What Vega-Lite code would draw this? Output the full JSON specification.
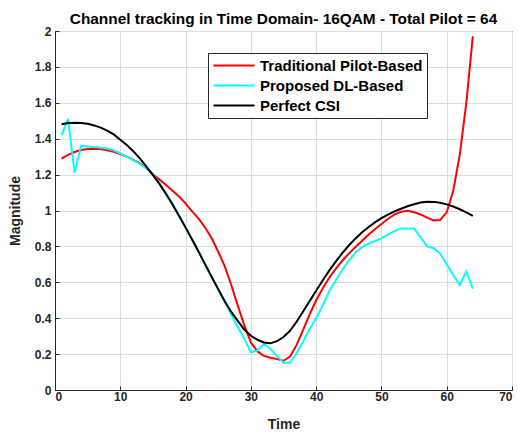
{
  "$schema": "https://vega.github.io/schema/vega-lite/v6.json",
  "width": 457,
  "height": 359,
  "autosize": {"type": "none"},
  "padding": {"left": 55, "top": 31, "right": 6, "bottom": 43},
  "background": "white",
  "config": {
    "font": "Liberation Sans",
    "view": {"stroke": "#262626", "strokeWidth": 1},
    "axis": {
      "labelFont": "Liberation Sans", "labelFontWeight": "bold", "labelFontSize": 12, "labelColor": "#262626",
      "titleFont": "Liberation Sans", "titleFontWeight": "bold", "titleFontSize": 14, "titleColor": "#262626",
      "gridColor": "#dcdcdc", "gridWidth": 1, "domainColor": "#262626", "tickColor": "#262626",
      "tickSize": -4
    }
  },
  "title": {
    "text": "Channel tracking in Time Domain- 16QAM - Total Pilot = 64",
    "font": "Liberation Sans", "fontSize": 15.4, "fontWeight": "bold", "color": "#000000",
    "anchor": "middle", "offset": -2
  },
  "data": {
    "values": [
      {"t":1,"Traditional Pilot-Based":1.289,"Proposed DL-Based":1.42,"Perfect CSI":1.480},
      {"t":2,"Traditional Pilot-Based":1.310,"Proposed DL-Based":1.51,"Perfect CSI":1.487},
      {"t":3,"Traditional Pilot-Based":1.326,"Proposed DL-Based":1.21,"Perfect CSI":1.489},
      {"t":4,"Traditional Pilot-Based":1.337,"Proposed DL-Based":1.36,"Perfect CSI":1.488},
      {"t":5,"Traditional Pilot-Based":1.343,"Proposed DL-Based":1.357,"Perfect CSI":1.483},
      {"t":6,"Traditional Pilot-Based":1.344,"Proposed DL-Based":1.354,"Perfect CSI":1.474},
      {"t":7,"Traditional Pilot-Based":1.342,"Proposed DL-Based":1.350,"Perfect CSI":1.462},
      {"t":8,"Traditional Pilot-Based":1.336,"Proposed DL-Based":1.345,"Perfect CSI":1.445},
      {"t":9,"Traditional Pilot-Based":1.327,"Proposed DL-Based":1.335,"Perfect CSI":1.424},
      {"t":10,"Traditional Pilot-Based":1.315,"Proposed DL-Based":1.318,"Perfect CSI":1.394},
      {"t":11,"Traditional Pilot-Based":1.300,"Proposed DL-Based":1.300,"Perfect CSI":1.365},
      {"t":12,"Traditional Pilot-Based":1.282,"Proposed DL-Based":1.280,"Perfect CSI":1.330},
      {"t":13,"Traditional Pilot-Based":1.262,"Proposed DL-Based":1.260,"Perfect CSI":1.290},
      {"t":14,"Traditional Pilot-Based":1.237,"Proposed DL-Based":1.235,"Perfect CSI":1.245},
      {"t":15,"Traditional Pilot-Based":1.202,"Proposed DL-Based":1.200,"Perfect CSI":1.197},
      {"t":16,"Traditional Pilot-Based":1.172,"Proposed DL-Based":1.152,"Perfect CSI":1.148},
      {"t":17,"Traditional Pilot-Based":1.142,"Proposed DL-Based":1.097,"Perfect CSI":1.092},
      {"t":18,"Traditional Pilot-Based":1.110,"Proposed DL-Based":1.037,"Perfect CSI":1.033},
      {"t":19,"Traditional Pilot-Based":1.078,"Proposed DL-Based":0.972,"Perfect CSI":0.970},
      {"t":20,"Traditional Pilot-Based":1.040,"Proposed DL-Based":0.906,"Perfect CSI":0.905},
      {"t":21,"Traditional Pilot-Based":0.995,"Proposed DL-Based":0.839,"Perfect CSI":0.838},
      {"t":22,"Traditional Pilot-Based":0.955,"Proposed DL-Based":0.770,"Perfect CSI":0.770},
      {"t":23,"Traditional Pilot-Based":0.905,"Proposed DL-Based":0.700,"Perfect CSI":0.700},
      {"t":24,"Traditional Pilot-Based":0.845,"Proposed DL-Based":0.630,"Perfect CSI":0.630},
      {"t":25,"Traditional Pilot-Based":0.770,"Proposed DL-Based":0.560,"Perfect CSI":0.562},
      {"t":26,"Traditional Pilot-Based":0.690,"Proposed DL-Based":0.490,"Perfect CSI":0.495},
      {"t":27,"Traditional Pilot-Based":0.585,"Proposed DL-Based":0.420,"Perfect CSI":0.435},
      {"t":28,"Traditional Pilot-Based":0.470,"Proposed DL-Based":0.350,"Perfect CSI":0.385},
      {"t":29,"Traditional Pilot-Based":0.360,"Proposed DL-Based":0.285,"Perfect CSI":0.337},
      {"t":30,"Traditional Pilot-Based":0.265,"Proposed DL-Based":0.210,"Perfect CSI":0.302},
      {"t":31,"Traditional Pilot-Based":0.215,"Proposed DL-Based":0.220,"Perfect CSI":0.280},
      {"t":32,"Traditional Pilot-Based":0.190,"Proposed DL-Based":0.256,"Perfect CSI":0.265},
      {"t":33,"Traditional Pilot-Based":0.180,"Proposed DL-Based":0.230,"Perfect CSI":0.260},
      {"t":34,"Traditional Pilot-Based":0.172,"Proposed DL-Based":0.190,"Perfect CSI":0.272},
      {"t":35,"Traditional Pilot-Based":0.163,"Proposed DL-Based":0.152,"Perfect CSI":0.295},
      {"t":36,"Traditional Pilot-Based":0.186,"Proposed DL-Based":0.152,"Perfect CSI":0.330},
      {"t":37,"Traditional Pilot-Based":0.250,"Proposed DL-Based":0.205,"Perfect CSI":0.380},
      {"t":38,"Traditional Pilot-Based":0.335,"Proposed DL-Based":0.270,"Perfect CSI":0.437},
      {"t":39,"Traditional Pilot-Based":0.420,"Proposed DL-Based":0.340,"Perfect CSI":0.495},
      {"t":40,"Traditional Pilot-Based":0.500,"Proposed DL-Based":0.400,"Perfect CSI":0.553},
      {"t":41,"Traditional Pilot-Based":0.565,"Proposed DL-Based":0.470,"Perfect CSI":0.610},
      {"t":42,"Traditional Pilot-Based":0.625,"Proposed DL-Based":0.550,"Perfect CSI":0.665},
      {"t":43,"Traditional Pilot-Based":0.675,"Proposed DL-Based":0.610,"Perfect CSI":0.715},
      {"t":44,"Traditional Pilot-Based":0.720,"Proposed DL-Based":0.670,"Perfect CSI":0.762},
      {"t":45,"Traditional Pilot-Based":0.760,"Proposed DL-Based":0.720,"Perfect CSI":0.805},
      {"t":46,"Traditional Pilot-Based":0.795,"Proposed DL-Based":0.765,"Perfect CSI":0.843},
      {"t":47,"Traditional Pilot-Based":0.830,"Proposed DL-Based":0.795,"Perfect CSI":0.877},
      {"t":48,"Traditional Pilot-Based":0.865,"Proposed DL-Based":0.815,"Perfect CSI":0.907},
      {"t":49,"Traditional Pilot-Based":0.895,"Proposed DL-Based":0.830,"Perfect CSI":0.934},
      {"t":50,"Traditional Pilot-Based":0.925,"Proposed DL-Based":0.845,"Perfect CSI":0.957},
      {"t":51,"Traditional Pilot-Based":0.953,"Proposed DL-Based":0.865,"Perfect CSI":0.977},
      {"t":52,"Traditional Pilot-Based":0.978,"Proposed DL-Based":0.885,"Perfect CSI":0.995},
      {"t":53,"Traditional Pilot-Based":0.993,"Proposed DL-Based":0.900,"Perfect CSI":1.010},
      {"t":54,"Traditional Pilot-Based":0.998,"Proposed DL-Based":0.900,"Perfect CSI":1.024},
      {"t":55,"Traditional Pilot-Based":0.990,"Proposed DL-Based":0.900,"Perfect CSI":1.035},
      {"t":56,"Traditional Pilot-Based":0.978,"Proposed DL-Based":0.850,"Perfect CSI":1.044},
      {"t":57,"Traditional Pilot-Based":0.960,"Proposed DL-Based":0.800,"Perfect CSI":1.049},
      {"t":58,"Traditional Pilot-Based":0.945,"Proposed DL-Based":0.790,"Perfect CSI":1.048},
      {"t":59,"Traditional Pilot-Based":0.947,"Proposed DL-Based":0.760,"Perfect CSI":1.043},
      {"t":60,"Traditional Pilot-Based":0.990,"Proposed DL-Based":0.700,"Perfect CSI":1.034},
      {"t":61,"Traditional Pilot-Based":1.110,"Proposed DL-Based":0.640,"Perfect CSI":1.022},
      {"t":62,"Traditional Pilot-Based":1.310,"Proposed DL-Based":0.585,"Perfect CSI":1.007},
      {"t":63,"Traditional Pilot-Based":1.600,"Proposed DL-Based":0.660,"Perfect CSI":0.990},
      {"t":64,"Traditional Pilot-Based":1.970,"Proposed DL-Based":0.565,"Perfect CSI":0.970}
    ]
  },
  "transform": [
    {"fold": ["Traditional Pilot-Based", "Proposed DL-Based", "Perfect CSI"], "as": ["series", "value"]}
  ],
  "encoding": {
    "x": {
      "field": "t", "type": "quantitative", "title": "Time",
      "scale": {"domain": [0, 70], "nice": false},
      "axis": {"values": [0,10,20,30,40,50,60,70], "titlePadding": 15, "labelPadding": 5}
    },
    "y": {
      "field": "value", "type": "quantitative", "title": "Magnitude",
      "scale": {"domain": [0, 2], "nice": false},
      "axis": {"values": [0,0.2,0.4,0.6,0.8,1,1.2,1.4,1.6,1.8,2], "labelExpr": "format(datum.value, '~g')", "titlePadding": 12, "labelPadding": 8}
    },
    "color": {
      "field": "series", "type": "nominal",
      "scale": {"domain": ["Traditional Pilot-Based", "Proposed DL-Based", "Perfect CSI"], "range": ["#ff0000", "#00ffff", "#000000"]},
      "legend": {
        "title": null, "orient": "none", "legendX": 153, "legendY": 22,
        "symbolType": "stroke", "symbolSize": 1681, "symbolStrokeWidth": 2.2, "clipHeight": 17,
        "labelFont": "Liberation Sans", "labelFontWeight": "bold", "labelFontSize": 15, "labelColor": "#000000", "labelLimit": 400,
        "strokeColor": "#262626", "fillColor": "white", "padding": 4, "rowPadding": 3, "labelOffset": 4
      }
    }
  },
  "layer": [
    {"transform": [{"filter": "datum.series === 'Traditional Pilot-Based'"}], "mark": {"type": "line", "strokeWidth": 2}},
    {"transform": [{"filter": "datum.series === 'Proposed DL-Based'"}], "mark": {"type": "line", "strokeWidth": 2}},
    {"transform": [{"filter": "datum.series === 'Perfect CSI'"}], "mark": {"type": "line", "strokeWidth": 2}}
  ]
}
